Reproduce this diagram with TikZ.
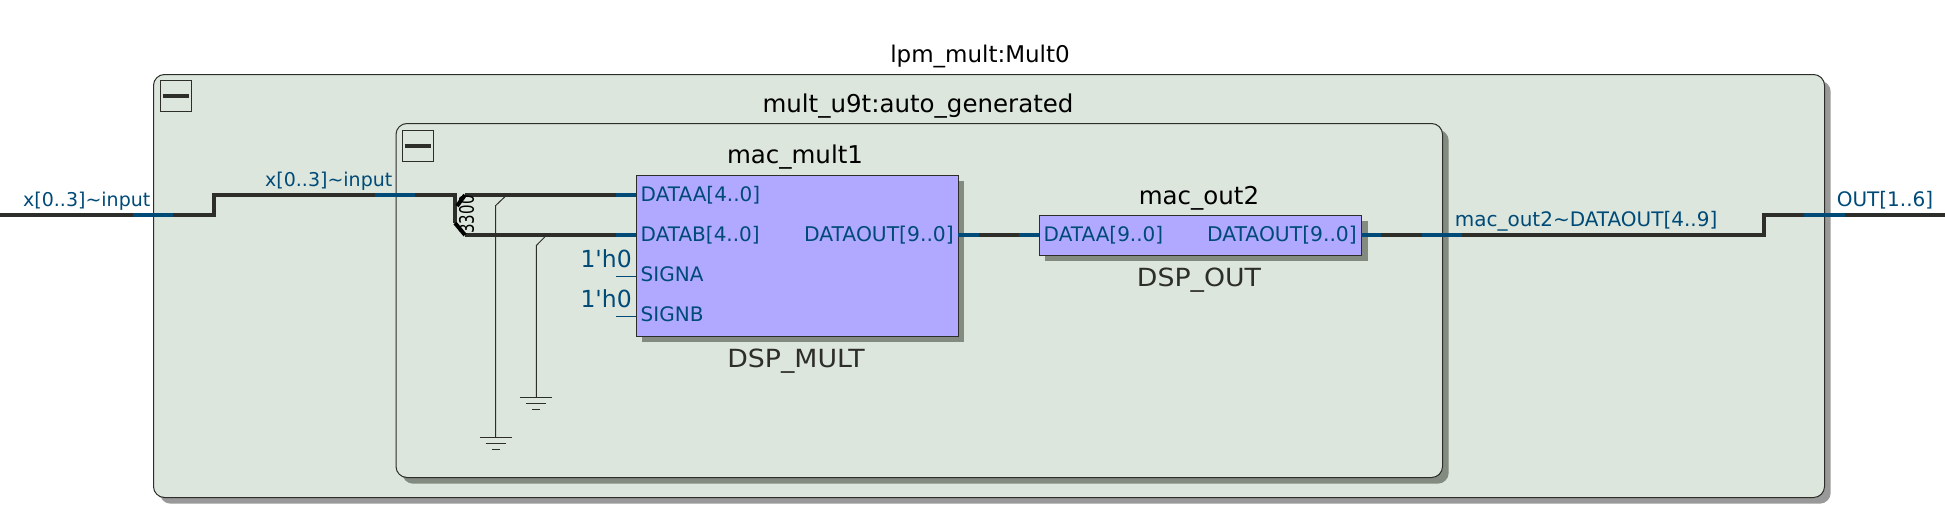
\documentclass[tikz,border=0pt]{standalone}
\usepackage{fontspec}
\usetikzlibrary{calc}
\setmainfont{DejaVu Sans}
\definecolor{wiredark}{HTML}{2D2D2A}
\definecolor{wireblue}{HTML}{004A78}
\definecolor{groupfill}{HTML}{DCE6DC}
\definecolor{blockfill}{HTML}{B1A9FF}
\definecolor{shadowout}{HTML}{999999}
\definecolor{shadowin}{HTML}{838A80}
\tikzset{
  group/.style={draw=wiredark,line width=1pt,fill=groupfill,rounded corners=11pt,inner sep=0pt,anchor=north west},
  groupshadow/.style={fill=#1,rounded corners=11pt,inner sep=0pt,anchor=north west},
  block/.style={draw=wiredark,line width=1pt,fill=blockfill,inner sep=0pt,anchor=north west},
  blockshadow/.style={fill=shadowin,inner sep=0pt,anchor=north west},
  minusbox/.style={draw=wiredark,line width=1pt,inner sep=0pt,minimum width=31pt,minimum height=31pt,anchor=north west},
  bus/.style={draw=wiredark,line width=4pt},
  busend/.style={draw=wireblue,line width=4pt},
  thinwire/.style={draw=wiredark,line width=1pt},
  titletext/.style={inner sep=0pt,font=\fontsize{24.5}{26}\selectfont,text=black,anchor=base},
  subtext/.style={inner sep=0pt,font=\fontsize{25}{26}\selectfont,text=wiredark,anchor=base},
  porttext/.style={inner sep=0pt,font=\fontsize{20}{22}\selectfont,text=wireblue,anchor=base west},
  porttextr/.style={inner sep=0pt,font=\fontsize{20.3}{22}\selectfont,text=wireblue,anchor=base east},
  wirelabel/.style={inner sep=0pt,font=\fontsize{19}{22}\selectfont,text=wireblue,anchor=base west},
  consttext/.style={inner sep=0pt,font=\fontsize{23.5}{28}\selectfont,text=wireblue,anchor=base east},
  gndsym/.pic={
    \draw[thinwire] (-16,0) -- (16,0);
    \draw[thinwire] (-10,6) -- (10,6);
    \draw[thinwire] (-4,12) -- (4,12);
  }
}
\begin{document}
\begin{tikzpicture}[x=1pt,y=-1pt]
\useasboundingbox (0,0) rectangle (1945,514);
% groups
\node[groupshadow=shadowout,minimum width=1671pt,minimum height=423pt] (outershadow) at (159.5,80.5) {};
\node[group,minimum width=1671pt,minimum height=423pt] (outer) at (153,74) {};
\node[groupshadow=shadowin,minimum width=1046.5pt,minimum height=354pt] (innershadow) at (402,129.5) {};
\node[group,minimum width=1046.5pt,minimum height=354pt] (inner) at (395.5,123) {};
% collapse buttons
\node[minusbox] (btnouter) at (159.5,80) {};
\draw[wiredark,line width=4pt] ($(btnouter.west)+(3,0)$) -- ($(btnouter.east)+(-3,0)$);
\node[minusbox] (btninner) at (401.5,129.5) {};
\draw[wiredark,line width=4pt] ($(btninner.west)+(3,0)$) -- ($(btninner.east)+(-3,0)$);
% blocks
\node[blockshadow,minimum width=322pt,minimum height=161pt] (multshadow) at (642,180.8) {};
\node[block,minimum width=322pt,minimum height=161pt] (mult) at (636,174.8) {};
\node[blockshadow,minimum width=322.4pt,minimum height=40pt] (outshadow) at (1045,221.2) {};
\node[block,minimum width=322.4pt,minimum height=40pt] (dspout) at (1039,215.2) {};
% coordinates
\coordinate (inL) at (0,215);
\coordinate (inS1) at (214,215);
\coordinate (inS2) at (214,195);
\coordinate (fork) at (455,195);
\coordinate (forkB) at (455,223);
\coordinate (aS) at (465,195);
\coordinate (bS) at (465,235);
\coordinate (aE) at (636,195);
\coordinate (bE) at (636,235);
\coordinate (mO) at (958,235);
\coordinate (dI) at (1039,235);
\coordinate (dO) at (1361.4,235);
\coordinate (oS1) at (1764,235);
\coordinate (oS2) at (1764,215);
\coordinate (oR) at (1945,215);
% buses
\draw[bus] (inL) -- (inS1) -- (inS2) -- (fork) -- (forkB);
\draw[bus] (aS) -- (aE);
\draw[bus] (bS) -- (bE);
\draw[bus] (mO) -- (dI);
\draw[bus] (dO) -- (oS1) -- (oS2) -- (oR);
\draw[black,line width=4pt] (forkB) -- (bS);
\draw[black,line width=4pt] (457,206) -- (aS);
% blue stubs
\draw[busend] (133,215) -- (173,215);
\draw[busend] (375,195) -- (415,195);
\draw[busend] (616,195) -- (aE);
\draw[busend] (616,235) -- (bE);
\draw[busend] (mO) -- (979,235);
\draw[busend] (1019,235) -- (dI);
\draw[busend] (dO) -- (1381,235);
\draw[busend] (1422,235) -- (1462,235);
\draw[busend] (1804,215) -- (1844.5,215);
\coordinate (sa) at (616,276);
\coordinate (sb) at (616,316);
\draw[wireblue,line width=1pt] (sa) -- (636,276);
\draw[wireblue,line width=1pt] (sb) -- (636,316);
% grounds
\coordinate (g1top) at (506.7,195);
\coordinate (g1bend) at (495.7,205.5);
\coordinate (g1) at (495.7,437.5);
\coordinate (g2top) at (546.7,235);
\coordinate (g2bend) at (536.3,245.5);
\coordinate (g2) at (536.3,397.5);
\draw[thinwire] (g1top) -- (g1bend) -- (g1);
\draw[thinwire] (g2top) -- (g2bend) -- (g2);
\pic at (g1) {gndsym};
\pic at (g2) {gndsym};
% bus width text
\node[rotate=90,inner sep=0pt,font=\fontsize{20}{20}\selectfont,text=black] (buswidth) at (466.5,214.5) {\scalebox{0.75}[1]{3300}};
% titles
\node[titletext,font=\fontsize{23}{26}\selectfont] (t1) at (980,62) {lpm\_mult:Mult0};
\node[titletext] (t2) at (918,112) {mult\_u9t:auto\_generated};
\node[titletext] (t3) at (795,163) {mac\_mult1};
\node[subtext] (t4) at (796,367) {\scalebox{1.07}[1]{DSP\_MULT}};
\node[titletext] (t5) at (1199,204) {mac\_out2};
\node[subtext] (t6) at (1199,286) {\scalebox{1.07}[1]{DSP\_OUT}};
% wire labels
\node[wirelabel] (l1) at (23,206) {x[0..3]\textasciitilde input};
\node[wirelabel] (l2) at (265,186) {x[0..3]\textasciitilde input};
\node[porttext] (l3) at (1454.6,226) {mac\_out2\textasciitilde DATAOUT[4..9]};
\node[porttext] (l4) at (1836.6,206) {OUT[1..6]};
% ports
\node[porttext] (p1) at (640.5,201) {DATAA[4..0]};
\node[porttext] (p2) at (640.5,241) {DATAB[4..0]};
\node[porttext] (p3) at (640.5,281) {SIGNA};
\node[porttext] (p4) at (640.5,321) {SIGNB};
\node[porttextr] (p5) at (954,241) {DATAOUT[9..0]};
\node[porttext] (p6) at (1043.5,241) {DATAA[9..0]};
\node[porttextr] (p7) at (1357,241) {DATAOUT[9..0]};
\node[consttext] (c1) at (632,267) {1\textquotesingle h0};
\node[consttext] (c2) at (632,307) {1\textquotesingle h0};
\end{tikzpicture}
\end{document}
